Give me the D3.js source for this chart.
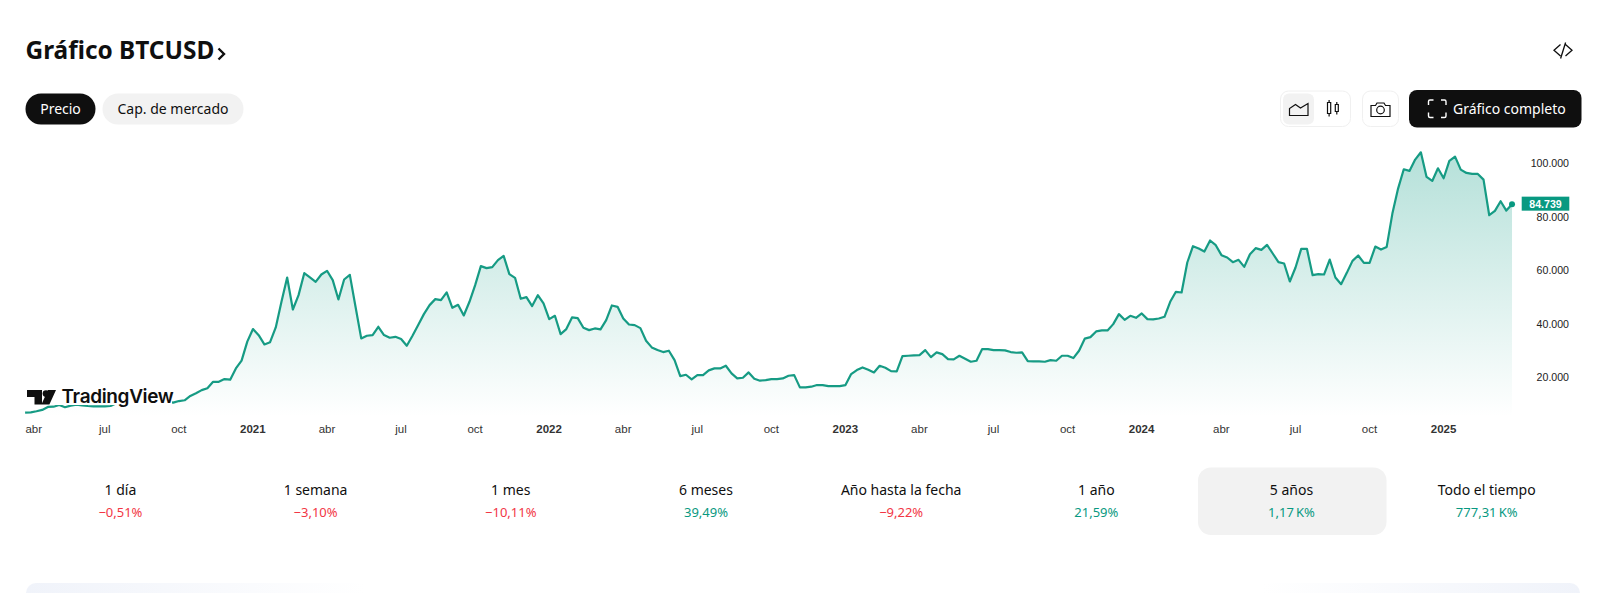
<!DOCTYPE html>
<html lang="es">
<head>
<meta charset="utf-8">
<title>Gráfico BTCUSD</title>
<script src="https://cdn.jsdelivr.net/npm/d3@7"></script>
<style>
html,body{margin:0;padding:0;background:#fff;overflow:hidden}
svg{display:block}
text{font-family:"Noto Sans",sans-serif}
.axis text{font-family:"Liberation Sans",Arial,sans-serif}
</style>
</head>
<body>
<svg id="c" width="1600" height="593" viewBox="0 0 1600 593"></svg>
<script>
// Weekly closing price of BTCUSD
const prices = [
 6870,7000,7400,7900,9000,9100,9750,8900,9500,9850,9600,9350,9250,9250,9250,9350,
 10400,11000,11100,11800,11900,11600,11700,10500,10400,10900,
 10600,11200,11500,13100,14100,15300,16000,18400,18400,19400,19200,23400,26300,33400,
 38100,35800,32350,33200,38700,48300,57350,45400,50760,58970,57350,55740,58480,59850,56360,49150,56600,58350,46400,34600,
 35590,35840,38950,35840,34840,35200,34350,31850,35590,39570,43670,47030,49270,48900,51760,46040,47160,43170,48280,54500,
 61590,60840,61210,63830,65440,58600,57230,49400,50020,46660,50760,47650,41800,43050,36210,38080,42430,42180,38570,37700,
 38320,37950,41440,46900,46400,42060,39800,39570,38450,33720,31240,30240,29500,30000,26500,20540,21030,19300,20900,20900,
 22650,23400,23400,24390,21530,19670,19900,21900,19540,18800,19040,19420,19420,19670,20660,20900,16300,16300,16560,17180,
 17180,16800,16800,16800,17180,21280,22780,23770,22900,21900,24390,23650,22400,22280,28000,28120,28250,28370,30240,27630,
 29370,28750,26880,26760,28120,27000,25890,26260,30610,30610,30240,30240,30120,29500,29250,29370,26130,26010,26010,25890,
 26500,26260,28120,28120,27250,30000,34500,35090,37200,37570,37570,39930,43670,41550,43050,42300,43920,41800,41680,42050,
 42670,48270,52000,51750,62950,69040,68170,67050,71160,69420,65690,64820,63070,63940,61330,66060,68300,67680,69540,66310,
 63070,62580,55860,61080,68050,68050,58220,58600,58460,64050,57340,54850,59080,63560,65550,62810,62810,68900,67790,68780,
 81220,90550,97770,97150,101380,104110,94900,93410,98140,94410,100880,102500,97640,96400,96030,96030,93910,80600,82220,85830,
 82340,84739
];
const weekTicks  = [1,14,27,40,53,66,79,92,105,118,131,144,157,170,183,196,210,223,236,249];
const weekLabels = ["abr","jul","oct","2021","abr","jul","oct","2022","abr","jul","oct","2023","abr","jul","oct","2024","abr","jul","oct","2025"];
const priceTicks = [20000,40000,60000,80000,100000];
const lastPrice  = 84739;

const periods      = ["1 día","1 semana","1 mes","6 meses","Año hasta la fecha","1 año","5 años","Todo el tiempo"];
const periodChange = ["−0,51%","−3,10%","−10,11%","39,49%","−9,22%","21,59%","1,17\u202fK%","777,31\u202fK%"];
const periodUp     = [false,false,false,true,false,true,true,true];
const selectedPeriod = 6;

const INK="#0f0f0f", GREEN="#089981", RED="#f23645", PILL="#f2f2f2";
const svg=d3.select("#c");
const defs=svg.append("defs");

const x=d3.scaleLinear().domain([0,prices.length-1]).range([25.1,25.1+5.697*(prices.length-1)]);
const y=d3.scaleLinear().domain([20000,100000]).range([377.5,163.3]);
const base=y(5500);

const g1=defs.append("linearGradient").attr("id","fill").attr("x1",0).attr("x2",0).attr("y1",0).attr("y2",1)
  .attr("gradientUnits","objectBoundingBox");
g1.append("stop").attr("offset",0).attr("stop-color",GREEN).attr("stop-opacity",.3);
g1.append("stop").attr("offset",1).attr("stop-color",GREEN).attr("stop-opacity",0);
[["pl",0,1,"#f0f3fa","#ffffff"],["pr",0,1,"#ffffff","#f0f3fa"]].forEach(([id,a,b,c1,c2])=>{
  const g=defs.append("linearGradient").attr("id",id);
  g.append("stop").attr("offset",a).attr("stop-color",c1);
  g.append("stop").attr("offset",b).attr("stop-color",c2);
});

// header
svg.append("text").attr("x",25.5).attr("y",59).attr("font-size",24.4).attr("font-weight",700).attr("fill",INK).text("Gráfico BTCUSD");
svg.append("path").attr("d","M218.5 48.5l5.5 5.5-5.5 5.5").attr("fill","none").attr("stroke",INK).attr("stroke-width",2.4);
svg.append("path").attr("d","M1560.5 44.5l-6.5 5.7 6.5 5.7M1565.5 44.5l6.5 5.7-6.5 5.7M1565.6 42.5l-5 16")
   .attr("fill","none").attr("stroke",INK).attr("stroke-width",1.3);

// pills
svg.append("rect").attr("x",25.5).attr("y",93.5).attr("width",70).attr("height",31).attr("rx",15.5).attr("fill",INK);
svg.append("text").attr("x",60.5).attr("y",113.5).attr("text-anchor","middle").attr("font-size",14).attr("fill","#fff").text("Precio");
svg.append("rect").attr("x",102.5).attr("y",93.5).attr("width",141).attr("height",31).attr("rx",15.5).attr("fill",PILL);
svg.append("text").attr("x",173).attr("y",113.5).attr("text-anchor","middle").attr("font-size",14).attr("fill",INK).text("Cap. de mercado");

// tool buttons
svg.append("rect").attr("x",1280.5).attr("y",91).attr("width",70).attr("height",35.5).attr("rx",8).attr("fill","#fff").attr("stroke","#f0f0f0");
svg.append("rect").attr("x",1283).attr("y",93.5).attr("width",31).attr("height",31).attr("rx",6).attr("fill",PILL);
svg.append("path").attr("d","M1289.5 115.5v-7l6-4 5 3.5 7.5-4.5v12z").attr("fill","none").attr("stroke",INK).attr("stroke-width",1.2);
svg.append("path").attr("d","M1327.5 102.5h3.2v11h-3.2zM1329.1 100v2.5M1329.1 113.5v3M1335.3 104.5h3v7h-3zM1336.8 102v2.5M1336.8 111.5v3")
   .attr("fill","none").attr("stroke",INK).attr("stroke-width",1.2);
svg.append("rect").attr("x",1362.5).attr("y",91).attr("width",36).attr("height",35.5).attr("rx",8).attr("fill","#fff").attr("stroke","#f0f0f0");
svg.append("path").attr("d","M1371 105.5h4.5l1.5-2.5h7l1.5 2.5h4.5v11h-19z").attr("fill","none").attr("stroke",INK).attr("stroke-width",1.2);
svg.append("circle").attr("cx",1380.5).attr("cy",110).attr("r",3.8).attr("fill","none").attr("stroke",INK).attr("stroke-width",1.2);
svg.append("rect").attr("x",1409).attr("y",90).attr("width",172.5).attr("height",37.5).attr("rx",8).attr("fill",INK);
svg.append("path").attr("d","M1428.5 105v-3.5a1.5 1.5 0 0 1 1.5-1.5h3.5M1441 100h3.5a1.5 1.5 0 0 1 1.5 1.5v3.5M1446 112.5v3.5a1.5 1.5 0 0 1-1.5 1.5H1441M1433.5 117.5H1430a1.5 1.5 0 0 1-1.5-1.5v-3.5")
   .attr("fill","none").attr("stroke","#fff").attr("stroke-width",1.4);
svg.append("text").attr("x",1453).attr("y",113.5).attr("font-size",14).attr("fill","#fff").text("Gráfico completo");

// area + line
const data=prices.map((p,i)=>[i,p]);
svg.append("path").datum(data).attr("fill","url(#fill)")
  .attr("d",d3.area().x(d=>x(d[0])).y0(base).y1(d=>y(d[1])));
svg.append("path").datum(data).attr("fill","none").attr("stroke","#169b84").attr("stroke-width",2.2).attr("stroke-linejoin","round")
  .attr("d",d3.line().x(d=>x(d[0])).y(d=>y(d[1])));
svg.append("circle").attr("cx",x(prices.length-1)).attr("cy",y(lastPrice)).attr("r",3).attr("fill","#089981");

// logo
svg.append("rect").attr("x",26).attr("y",386).attr("width",146).attr("height",19).attr("fill","#fff");
svg.append("path").attr("d","M27 390h15v14.5h-7.5v-7.5H27zM56 390l-6.6 14.5h-8l6.6-14.5z").attr("fill",INK);
svg.append("circle").attr("cx",46).attr("cy",393.6).attr("r",3.4).attr("fill",INK);
svg.append("text").attr("x",61.5).attr("y",403.3).style("font-family","Inter,sans-serif")
  .attr("font-size",19).attr("font-weight",600).attr("letter-spacing",-.35).attr("fill",INK).text("TradingView");

// axes
const xAxis=d3.axisBottom(x).tickValues(weekTicks).tickSize(0).tickPadding(0)
  .tickFormat(d=>weekLabels[weekTicks.indexOf(d)]);
const gx=svg.append("g").attr("class","axis").attr("transform","translate(-0.6,432.7)").call(xAxis);
gx.select(".domain").remove();
gx.selectAll("text").attr("y",0).attr("dy",0).attr("font-size",11.5).attr("fill","#333")
  .attr("font-weight",(d,i)=>/^\d/.test(weekLabels[i])?700:400);
gx.selectAll(".tick").filter((d,i)=>i===0).attr("transform",`translate(26,0.5)`).select("text").attr("text-anchor","start");

const es=d3.formatLocale({decimal:",",thousands:".",grouping:[3],currency:["","$"]}).format(",");
const yAxis=d3.axisRight(y).tickValues(priceTicks).tickSize(0).tickPadding(0).tickFormat(es);
const gy=svg.append("g").attr("class","axis").attr("transform","translate(1569,-0.3)").call(yAxis);
gy.select(".domain").remove();
gy.selectAll("text").attr("x",0).attr("text-anchor","end").attr("font-size",10.6).attr("fill","#222").attr("dy","0.35em");

// last price label
svg.append("rect").attr("x",1521.7).attr("y",y(lastPrice)-7.5).attr("width",47.6).attr("height",14).attr("fill",GREEN);
svg.append("text").attr("x",1545.5).attr("y",y(lastPrice)+3.5).attr("text-anchor","middle").style("font-family","'Liberation Sans',sans-serif")
  .attr("font-size",10.6).attr("font-weight",700).attr("fill","#fff").text(es(lastPrice));

// period row
const px=d3.scalePoint().domain(periods).range([120.4,1486.7]);
svg.append("rect").attr("x",1198).attr("y",467.5).attr("width",188.5).attr("height",67.5).attr("rx",13).attr("fill",PILL);
const row=svg.selectAll("g.period").data(periods).join("g").attr("class","period").attr("transform",d=>`translate(${px(d)},0)`);
row.append("text").attr("y",494.7).attr("text-anchor","middle").attr("font-size",14).attr("fill",INK).text(d=>d);
row.append("text").attr("y",516.7).attr("text-anchor","middle").attr("font-size",13).attr("fill",(d,i)=>periodUp[i]?GREEN:RED).text((d,i)=>periodChange[i]);

// next panel peeking in at the bottom
svg.append("path").attr("d","M26 593a10 10 0 0 1 10-10h330v10z").attr("fill","url(#pl)");
svg.append("path").attr("d","M1262 593v-10h308a10 10 0 0 1 10 10z").attr("fill","url(#pr)");
</script>
</body>
</html>
